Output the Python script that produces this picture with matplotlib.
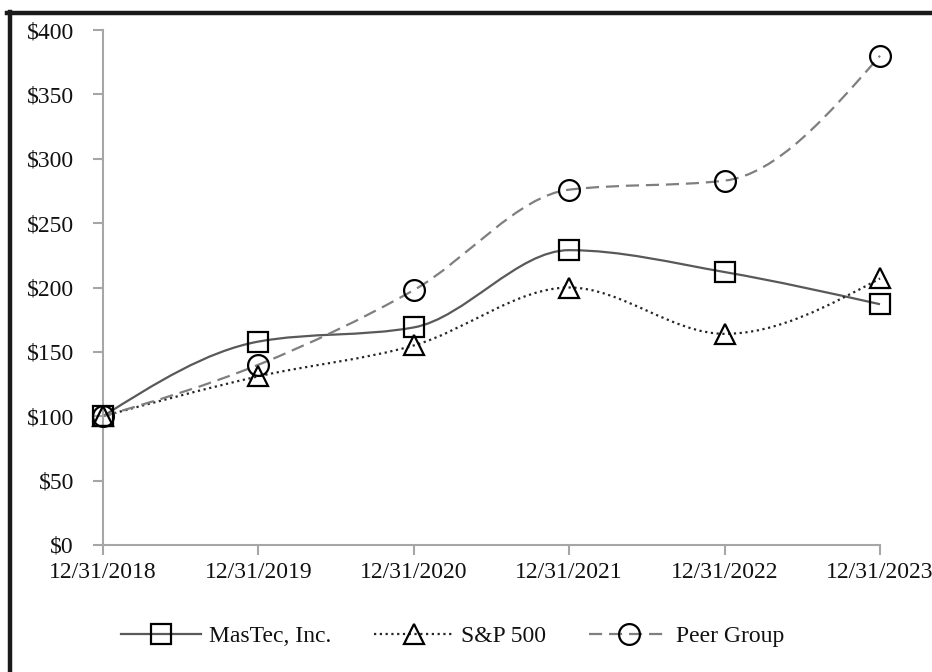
import matplotlib
matplotlib.use("Agg")
import matplotlib.pyplot as plt
from matplotlib.path import Path
from matplotlib.patches import PathPatch
from matplotlib.lines import Line2D
import numpy as np

dates = ["12/31/2018", "12/31/2019", "12/31/2020", "12/31/2021", "12/31/2022", "12/31/2023"]
mastec = [100, 158, 169, 229, 212, 187]
sp500 = [100, 131, 155, 200, 164, 207]
peer = [100, 140, 198, 276, 283, 380]
yticks = [0, 50, 100, 150, 200, 250, 300, 350, 400]

plt.rcParams['font.family'] = ['Liberation Serif', 'DejaVu Serif']
plt.rcParams['font.size'] = 17

fig = plt.figure(figsize=(9.32, 6.72), dpi=100)
ax = fig.add_axes([103/932, 127/672, 777/932, 515/672])


def smooth_path(xs, ys):
    """Monotone cubic (d3 monotoneX style) Bezier path through the data points."""
    xs = np.asarray(xs, float); ys = np.asarray(ys, float)
    n = len(xs)
    h = np.diff(xs)
    s = np.diff(ys) / h
    t = np.zeros(n)
    for i in range(1, n - 1):
        p = (s[i-1] * h[i] + s[i] * h[i-1]) / (h[i-1] + h[i])
        t[i] = (np.sign(s[i-1]) + np.sign(s[i])) * min(abs(s[i-1]), abs(s[i]), 0.5 * abs(p))
    t[0] = (3 * s[0] - t[1]) / 2
    t[-1] = (3 * s[-1] - t[-2]) / 2
    verts = [(xs[0], ys[0])]
    codes = [Path.MOVETO]
    for i in range(n - 1):
        dx = h[i] / 3
        verts += [(xs[i] + dx, ys[i] + dx * t[i]),
                  (xs[i+1] - dx, ys[i+1] - dx * t[i+1]),
                  (xs[i+1], ys[i+1])]
        codes += [Path.CURVE4] * 3
    return Path(verts, codes)


x = np.arange(len(dates))
series = [
    ("MasTec, Inc.", mastec, 's', '-', '#595959'),
    ("S&P 500", sp500, '^', (0, (1, 1.6)), '#262626'),
    ("Peer Group", peer, 'o', (0, (5.9, 3.1)), '#7f7f7f'),
]
handles = []
for label, vals, mk, ls, col in series:
    p = PathPatch(smooth_path(x, vals), facecolor='none', edgecolor=col,
                  lw=1.6, linestyle=ls, zorder=2, clip_on=False)
    ax.add_patch(p)
    ax.plot(x, vals, linestyle='none', marker=mk, markersize=15,
            markerfacecolor='none', markeredgecolor='black', markeredgewidth=1.6,
            zorder=3, clip_on=False)
    handles.append(Line2D([], [], color=col, lw=1.6, linestyle=ls, marker=mk,
                          markersize=15, markerfacecolor='none',
                          markeredgecolor='black', markeredgewidth=1.6))

ax.set_xlim(0, len(dates) - 1)
ax.set_ylim(0, 400)
ax.set_xticks(x)
ax.set_xticklabels(dates)
ax.set_yticks(yticks)
ax.set_yticklabels([f"${v}" for v in yticks])
for sp in ['top', 'right']:
    ax.spines[sp].set_visible(False)
for sp in ['left', 'bottom']:
    ax.spines[sp].set_color('#a6a6a6')
    ax.spines[sp].set_linewidth(1.5)
ax.tick_params(axis='both', color='#a6a6a6', width=1.5, length=7, labelcolor='#111111')
ax.tick_params(axis='y', pad=14)
ax.tick_params(axis='x', pad=5)

fig.legend(handles, [s[0] for s in series], loc='center', bbox_to_anchor=(0.486, 36/672),
           ncol=3, frameon=False, handlelength=3.4, columnspacing=1.82, handletextpad=0.3,
           fontsize=17, numpoints=1, labelcolor='#111111')

fig.add_artist(Line2D([7/932, 1], [1 - 13/672, 1 - 13/672], color='#1a1a1a', lw=3.2,
                      transform=fig.transFigure))
fig.add_artist(Line2D([9.5/932, 9.5/932], [0, 1 - 11.5/672], color='#1a1a1a', lw=3.2,
                      transform=fig.transFigure))

fig.savefig("out.png", dpi=100)
